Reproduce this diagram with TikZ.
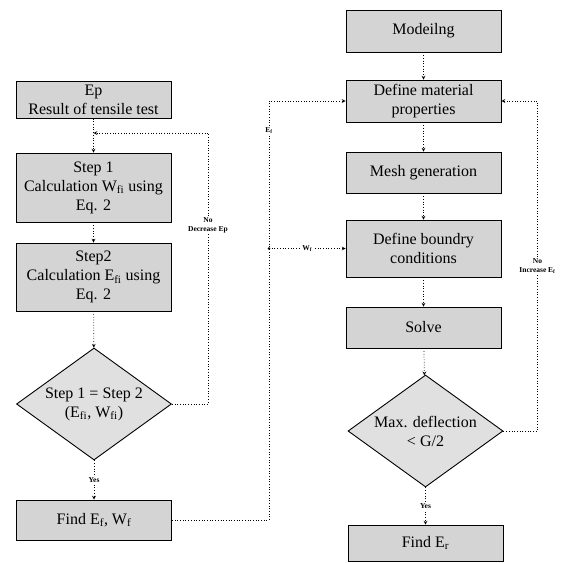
\documentclass[tikz,border=0pt]{standalone}
\usepackage{fontspec}
\setmainfont{Liberation Serif}
\usetikzlibrary{arrows,shapes,positioning,calc}

\begin{document}
\begin{tikzpicture}[x=1pt, y=-1pt, >=stealth,
    box/.style={draw=black, line width=0.9pt, fill=black!17, minimum width=155pt,
        align=center, font=\fontsize{16}{19}\selectfont},
    dec/.style={draw=black, line width=0.9pt, fill=black!12, diamond, aspect=1.4,
        inner sep=0pt, minimum width=155pt, minimum height=112pt, align=center,
        font=\fontsize{16}{19}\selectfont},
    link/.style={dotted, line width=0.7pt},
    lbl/.style={fill=white, inner sep=1pt, align=center,
        font=\fontsize{7.5}{9}\selectfont\bfseries}]
    \useasboundingbox (0,0) rectangle (570,562);

    % left column
    \node[box, minimum height=36pt] (ep) at (93.5,100) {Ep\\Result of tensile test};
    \node[box, minimum height=69pt] (step1) at (93.5,187.5) {Step 1\\Calculation W\textsubscript{fi} using\\Eq. 2};
    \node[box, minimum height=68pt] (step2) at (93.5,277) {Step2\\Calculation E\textsubscript{fi} using\\Eq. 2};
    \node[dec] (chk1) at (94,404) {Step 1 = Step 2\\(E\textsubscript{fi}, W\textsubscript{fi})};
    \node[box, minimum height=40pt] (find1) at (94,520) {Find E\textsubscript{f}, W\textsubscript{f}};

    % right column
    \node[box, minimum height=42pt] (model) at (423.5,31) {Modeilng};
    \node[box, minimum height=42pt] (mat) at (423.5,101) {Define material\\properties};
    \node[box, minimum height=41pt] (mesh) at (423.5,172.5) {Mesh generation};
    \node[box, minimum height=57pt] (bc) at (423.5,248.5) {Define boundry\\conditions};
    \node[box, minimum height=41pt] (solve) at (423.5,327.5) {Solve};
    \node[dec] (chk2) at (425.5,431) {Max. deflection\\\textless{} G/2};
    \node[box, minimum height=36pt] (find2) at (425.5,543) {Find E\textsubscript{r}};

    % left flow
    \draw[link,->] (ep) -- (step1);
    \draw[link,->] (step1) -- (step2);
    \draw[link,->] (step2) -- (chk1);
    \draw[link,->] (chk1) -- node[lbl]{Yes} (find1);

    \coordinate (ret1) at (93.5,133);
    \coordinate (c1) at ($(chk1.east)+(36,0)$);
    \coordinate (c2) at (c1 |- ret1);
    \draw[link] (chk1.east) -- (c1) -- node[lbl, pos=0.66]{No\\Decrease Ep} (c2);
    \draw[link,->] (c2) -- (ret1);

    % left to right
    \coordinate (c3) at (269,520);
    \coordinate (c4) at (mat.west -| c3);
    \draw[link,->] (find1.east) -- (c3) -- node[lbl, pos=0.93]{E\textsubscript{f}} (c4) -- (mat.west);
    \coordinate (jw) at (bc.west -| c3);
    \fill (jw) circle (1.3pt);
    \draw[link,->] (jw) -- node[lbl]{W\textsubscript{f}} (bc.west);

    % right flow
    \draw[link,->] (model) -- (mat);
    \draw[link,->] (mat) -- (mesh);
    \draw[link,->] (mesh) -- (bc);
    \draw[link,->] (bc) -- (solve);
    \draw[link,->] (solve) -- (chk2);
    \draw[link,->] (chk2) -- node[lbl]{Yes} (find2);

    \coordinate (c5) at ($(chk2.east)+(34,0)$);
    \coordinate (c6) at (mat.east -| c5);
    \draw[link,->] (chk2.east) -- (c5) -- node[lbl, pos=0.5]{No\\Increase E\textsubscript{f}} (c6) -- (mat.east);

\end{tikzpicture}
\end{document}
